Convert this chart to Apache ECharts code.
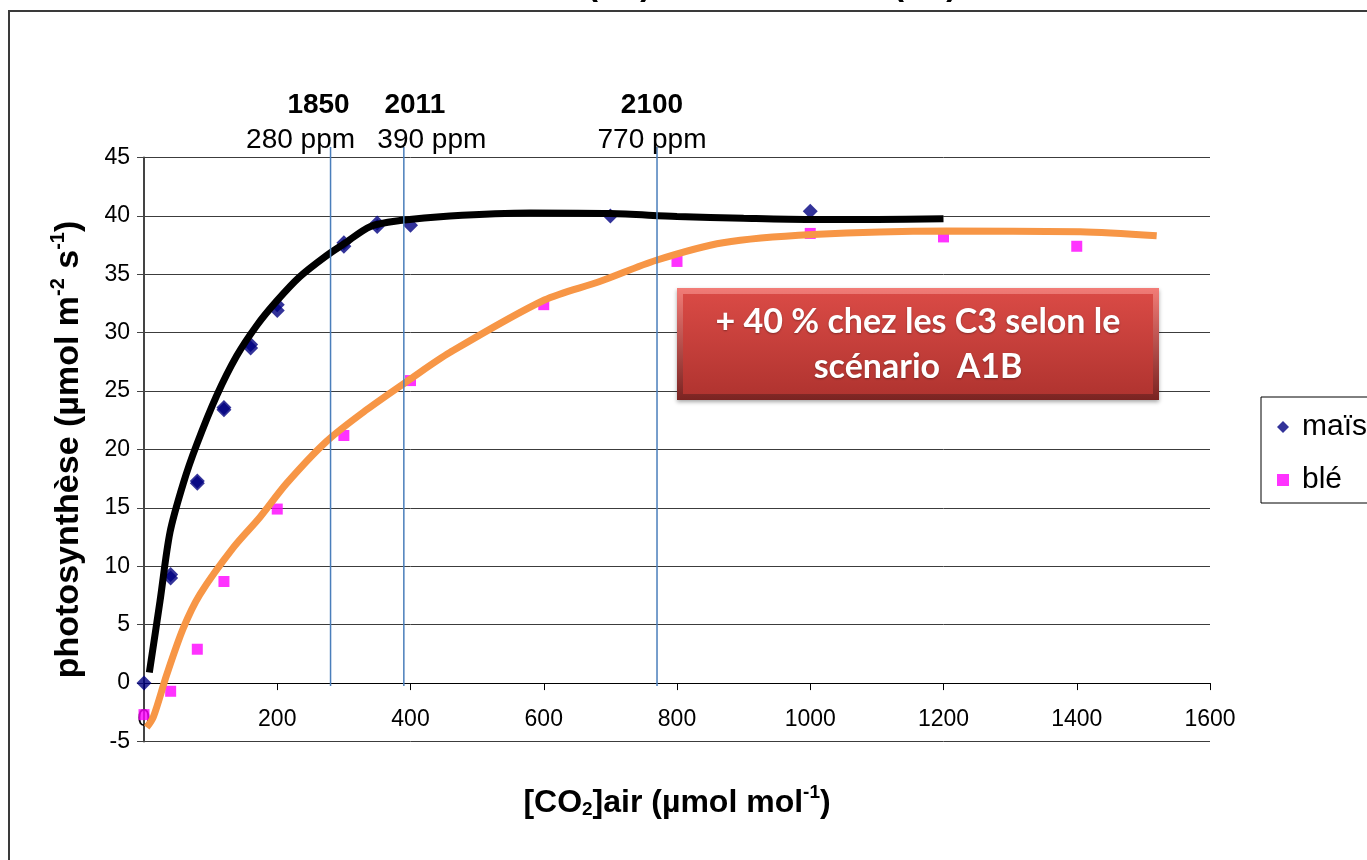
<!DOCTYPE html>
<html>
<head>
<meta charset="utf-8">
<script src="https://cdn.jsdelivr.net/npm/echarts@6/dist/echarts.min.js"></script>
<style>
html,body{margin:0;padding:0;background:#fff;}
#c{width:1367px;height:860px;}
</style>
</head>
<body>
<div id="c"></div>
<script>
// ---- data ----
const xTicks = [0, 200, 400, 600, 800, 1000, 1200, 1400, 1600];
const yTicks = [-5, 0, 5, 10, 15, 20, 25, 30, 35, 40, 45];

const maisX = [0, 40, 40, 80, 80, 120, 120, 160, 160, 200, 200, 300, 300, 350, 350, 400, 700, 1000];
const maisY = [0, 9.0, 9.3, 17.1, 17.3, 23.4, 23.6, 28.7, 29.0, 31.9, 32.4, 37.4, 37.7, 39.1, 39.4, 39.2, 40.0, 40.4];

const bleX = [0, 40, 80, 120, 200, 300, 400, 600, 800, 1000, 1200, 1400];
const bleY = [-2.7, -0.7, 2.9, 8.7, 14.9, 21.2, 25.9, 32.4, 36.1, 38.5, 38.2, 37.4];

const maisTrendX = [8, 24, 39, 59, 79, 109, 139, 169, 199, 234, 274, 300, 340, 384, 459, 580, 700, 800, 900, 1000, 1100, 1200];
const maisTrendY = [0.9, 7.0, 12.9, 17.1, 20.4, 24.6, 28.0, 30.6, 32.7, 34.8, 36.6, 37.6, 39.1, 39.6, 40.0, 40.25, 40.2, 39.95, 39.8, 39.7, 39.7, 39.75];

const bleTrendX = [4, 14, 34, 59, 84, 134, 174, 214, 274, 334, 399, 459, 601, 685, 769, 869, 1004, 1204, 1405, 1520];
const bleTrendY = [-3.8, -2.9, 0.7, 4.7, 7.6, 11.6, 14.2, 17.1, 20.7, 23.4, 26.0, 28.3, 32.8, 34.4, 36.2, 37.7, 38.4, 38.7, 38.65, 38.3];

const refPpm = [280, 390, 770];
const refYears = ['1850', '2011', '2100'];
const refLow = -0.25;
const refHigh = 45.9;

const seriesNames = ['maïs', 'blé'];
const annotationLines = ['+ 40 % chez les C3 selon le', 'scénario  A1B'];
// title is cut off by the top of the picture: only the bottoms of the brackets show
const titleParts = ['Maïs', '(C4)', 'et blé', '(C3)'];

// ---- build ----
const FONT = "'Liberation Sans', Arial, sans-serif";
const zip = (a, b) => a.map((v, i) => [v, b[i]]);

// per-label horizontal shifts of the two text rows (year / ppm), in px
const rowShift = [[-12, -30], [11, 28], [-5, -5]];
function padFor(s) { return s >= 0 ? [0, 0, 0, 2 * s] : [0, -2 * s, 0, 0]; }

const refSeries = refPpm.map((p, i) => ({
  type: 'line',
  name: 'ref' + i,
  clip: false,
  silent: true,
  z: 6,
  symbol: 'circle',
  symbolSize: 0.1,
  showSymbol: true,
  itemStyle: { color: '#4A7EBB' },
  lineStyle: { color: '#4A7EBB', width: 1.5 },
  data: [
    [p, refLow],
    {
      value: [p, refHigh],
      label: {
        show: true,
        position: 'top',
        distance: -10.5,
        formatter: '{yr|' + refYears[i] + '}\n{pp|' + p + ' ppm}',
        rich: {
          yr: { fontFamily: FONT, fontSize: 28, fontWeight: 'bold', color: '#000', lineHeight: 35, align: 'center', padding: padFor(rowShift[i][0]) },
          pp: { fontFamily: FONT, fontSize: 28, color: '#000', lineHeight: 35, align: 'center', padding: padFor(rowShift[i][1]) }
        }
      }
    }
  ]
}));

function richName(fs, ss) {
  return {
    n: { fontFamily: FONT, fontSize: fs, fontWeight: 'bold', color: '#000', lineHeight: fs + 4, verticalAlign: 'bottom' },
    sup: { fontFamily: FONT, fontSize: ss, fontWeight: 'bold', color: '#000', lineHeight: ss, verticalAlign: 'top' },
    sub: { fontFamily: FONT, fontSize: ss, fontWeight: 'bold', color: '#000', lineHeight: ss, verticalAlign: 'bottom' }
  };
}

const chart = echarts.init(document.getElementById('c'), null, { renderer: 'canvas' });

const TITLE_FONT = "bold 33px 'Liberation Sans', Arial, sans-serif";
const titleGraphics = [
  { x: 580, align: 'right', t: titleParts[0] },
  { x: 587, align: 'left', t: titleParts[1] },
  { x: 772, align: 'center', t: titleParts[2] },
  { x: 893, align: 'left', t: titleParts[3] }
].map(o => ({
  type: 'text', silent: true, z: 10, x: o.x, y: 2,
  style: { text: o.t, font: TITLE_FONT, fill: '#000', align: o.align, verticalAlign: 'bottom' }
}));

const option = {
  animation: false,
  backgroundColor: '#fff',
  textStyle: { fontFamily: FONT },
  grid: { left: 144, right: 157, top: 157.5, bottom: 118.5, outerBoundsMode: 'none', containLabel: false },
  legend: {
    data: [{ name: seriesNames[0], icon: 'diamond' }, { name: seriesNames[1], icon: 'rect' }],
    orient: 'vertical',
    left: 1261,
    top: 397,
    itemWidth: 12,
    itemHeight: 12,
    itemGap: 20,
    padding: [13.5, 30, 6.5, 16],
    borderColor: '#000',
    borderWidth: 1,
    backgroundColor: '#fff',
    textStyle: { fontFamily: FONT, fontSize: 30, color: '#000', lineHeight: 33, padding: [0, 0, 0, 8] }
  },
  xAxis: {
    type: 'value',
    min: xTicks[0],
    max: xTicks[xTicks.length - 1],
    interval: xTicks[1] - xTicks[0],
    axisLine: { show: true, onZero: true, lineStyle: { color: '#000', width: 1 } },
    axisTick: { show: true, length: 7, lineStyle: { color: '#000' } },
    axisLabel: { fontFamily: FONT, fontSize: 23, color: '#000', margin: -33, formatter: v => String(v) },
    splitLine: { show: false },
    name: '{n|[CO}{sub|2}{n|]air (µmol mol}{sup|-1}{n|)}',
    nameLocation: 'middle',
    nameGap: 42,
    nameMoveOverlap: false,
    nameTextStyle: { rich: richName(32, 19) }
  },
  yAxis: {
    type: 'value',
    min: yTicks[0],
    max: yTicks[yTicks.length - 1],
    interval: yTicks[1] - yTicks[0],
    axisLine: { show: true, onZero: false, lineStyle: { color: '#444', width: 2 } },
    axisTick: { show: true, length: 7, lineStyle: { color: '#444' } },
    axisLabel: { fontFamily: FONT, fontSize: 23, color: '#000', margin: 14 },
    splitLine: { show: true, lineStyle: { color: '#3c3c3c', width: 1 } },
    name: '{n|photosynthèse (µmol m}{sup|-2}{n| s}{sup|-1}{n|)}',
    nameLocation: 'middle',
    nameRotate: 90,
    nameGap: 58,
    nameMoveOverlap: false,
    nameTextStyle: { rich: richName(34, 20) }
  },
  series: [
    {
      type: 'scatter', name: seriesNames[0], z: 2,
      symbol: 'diamond', symbolSize: 15,
      itemStyle: { color: '#000080' },
      data: zip(maisX, maisY)
    },
    {
      type: 'scatter', name: seriesNames[1], z: 2,
      symbol: 'rect', symbolSize: 11,
      itemStyle: { color: '#FF00FF' },
      data: zip(bleX, bleY)
    },
    {
      type: 'line', name: 'tendance blé', z: 3, silent: true,
      symbol: 'none', smooth: 0.3,
      lineStyle: { color: '#F79646', width: 7 },
      data: zip(bleTrendX, bleTrendY)
    },
    {
      type: 'line', name: 'tendance maïs', z: 4, silent: true,
      symbol: 'none', smooth: 0.3,
      lineStyle: { color: '#000', width: 7 },
      data: zip(maisTrendX, maisTrendY)
    }
  ].concat(refSeries),
  graphic: [
    {
      type: 'rect', silent: true, z: -10,
      shape: { x: 9, y: 11, width: 1420, height: 900 },
      style: { fill: 'none', stroke: '#3a3a3a', lineWidth: 2 }
    },
    {
      type: 'rect', silent: true, z: 20,
      shape: { x: 677, y: 288, width: 482, height: 112 },
      style: {
        fill: new echarts.graphic.LinearGradient(0, 0, 0, 1, [{ offset: 0, color: '#f27c77' }, { offset: 1, color: '#7a2321' }]),
        shadowColor: 'rgba(0,0,0,0.35)', shadowBlur: 4, shadowOffsetY: 2
      }
    },
    {
      type: 'rect', silent: true, z: 21,
      shape: { x: 683, y: 294, width: 470, height: 100 },
      style: {
        fill: new echarts.graphic.LinearGradient(0, 0, 0, 1, [{ offset: 0, color: '#d94a45' }, { offset: 1, color: '#b13430' }])
      }
    },
    {
      type: 'text', silent: true, z: 22, x: 918, y: 345,
      style: {
        text: annotationLines.join('\n'),
        font: "bold 34px Lato, 'Open Sans', sans-serif",
        lineHeight: 45,
        fill: '#fff', align: 'center', verticalAlign: 'middle',
        textShadowColor: 'rgba(0,0,0,0.35)', textShadowBlur: 2, textShadowOffsetY: 1
      }
    }
  ].concat(titleGraphics)
};

chart.setOption(option);
</script>
</body>
</html>
